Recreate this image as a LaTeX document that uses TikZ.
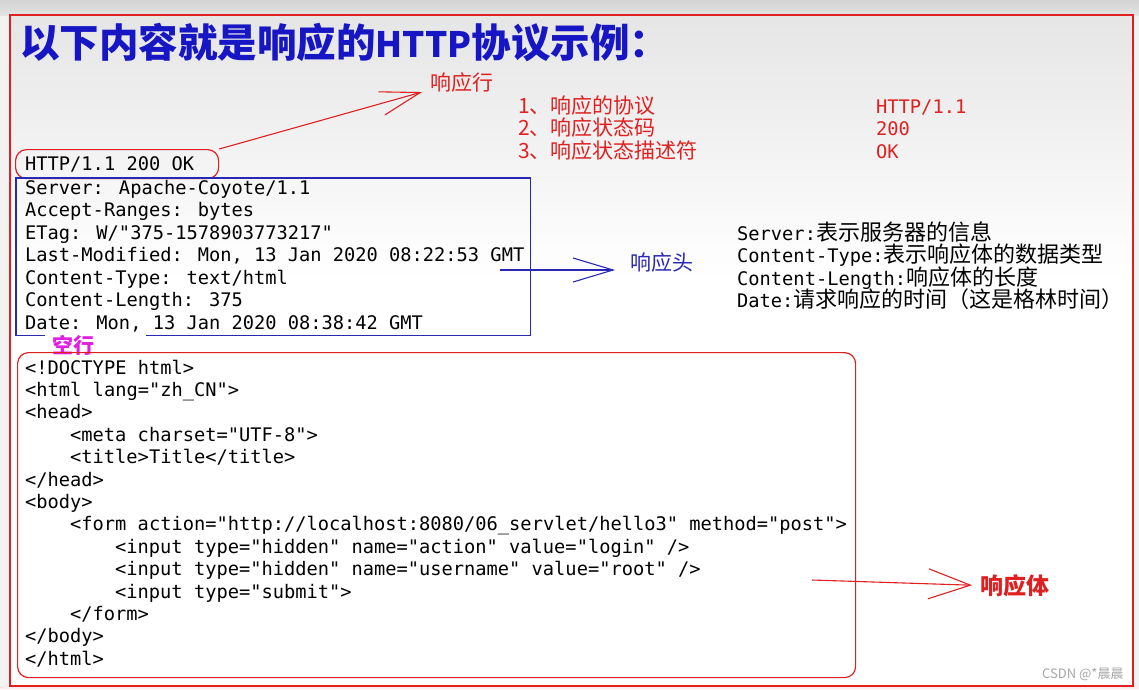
\documentclass[tikz,border=0pt]{standalone}
\usepackage{fontspec}
\newfontfamily\codefont{DejaVu Sans Mono}
\newfontfamily\cjkfont{Noto Sans CJK SC}
\usepackage{xcolor}
\usepackage{tikz}
\usetikzlibrary{arrows.meta, positioning}

\definecolor{slidered}{HTML}{E02020}
\definecolor{slideblue}{HTML}{1616C4}
\definecolor{hdrblue}{HTML}{2828B4}
\definecolor{notemagenta}{HTML}{E020E0}

\newcommand{\ind}{\hspace*{45pt}}

\begin{document}
\begin{tikzpicture}[
  x=1pt, y=-1pt,
  code/.style = {anchor=base west, inner sep=0pt, text=black,
    font=\codefont\fontsize{18.7}{22.5}\selectfont},
  note/.style = {anchor=base west, inner sep=0pt,
    font=\cjkfont\fontsize{21}{24}\selectfont},
  redround/.style = {draw=slidered, line width=1.2pt, rounded corners=11pt,
    anchor=north west, inner sep=0pt},
  plainbox/.style = {anchor=north west, inner sep=0pt},
  hint/.style = {line width=1.1pt,
    -{Straight Barb[length=40pt, width=24pt, line width=1.1pt]}}
]
\useasboundingbox (0,0) rectangle (1139,689);

% slide background
\fill[gray!10] (0,0) rectangle (1139,689);
\shade[top color=gray!35, bottom color=gray!22] (0,0) rectangle (1139,15);
\shade[top color=gray!20, bottom color=white] (10,15) rectangle (1133,280);
\fill[white] (10,280) rectangle (1133,686);
\fill[red!8] (0,686) rectangle (1139,689);
\draw[slidered, line width=1.2pt] (10,15) rectangle (1133,686);

\node[anchor=base west, inner sep=0pt, text=slideblue,
      font=\cjkfont\bfseries\fontsize{39.5}{42}\selectfont] (title) at (20,57)
  {以下内容就是响应的{\fontsize{35}{38}\selectfont HTTP}协议示例：};

% response line
\node[code] (status) at (25,170) {HTTP/1.1 200 OK};
\node[redround, minimum width=203pt, minimum height=29pt] (statusbox) at (15,149) {};
\node[note, text=slidered] (linelbl) at (430,90) {响应行};

\foreach \item/\val [count=\i] in {{1、响应的协议}/{HTTP/1.1}, {2、响应状态码}/{200}, {3、响应状态描述符}/{OK}} {
  \node[note, text=slidered] (part\i) at (518, {90.5+22.5*\i}) {\item};
  \node[code, text=slidered] (partval\i) at (876, {90.5+22.5*\i}) {\val};
}

% response headers
\foreach \txt [count=\i] in {{Server: Apache-Coyote/1.1}, {Accept-Ranges: bytes},
    {ETag: W/"375-1578903773217"}, {Last-Modified: Mon, 13 Jan 2020 08:22:53 GMT},
    {Content-Type: text/html}, {Content-Length: 375}, {Date: Mon, 13 Jan 2020 08:38:42 GMT}}
  \node[code] (hdr\i) at (25, {171.5+22.5*\i}) {\txt};
\node[plainbox, minimum width=514pt, minimum height=157pt] (hdrbox) at (16,178) {};
\draw[hdrblue, line width=1.1pt] ([xshift=29pt]hdrbox.south west) -- (hdrbox.south west)
  -- (hdrbox.north west) -- (hdrbox.north east) -- (hdrbox.south east)
  -- ([xshift=130pt]hdrbox.south west);
\node[note, text=hdrblue] (hdrlbl) at (630,270) {响应头};

\foreach \key/\val [count=\i] in {{Server:}/{表示服务器的信息}, {Content-Type:}/{表示响应体的数据类型},
    {Content-Length:}/{响应体的长度}, {Date:}/{请求响应的时间（这是格林时间）}}
  \node[code] (meaning\i) at (737, {217.5+22.5*\i})
    {\key{\cjkfont\fontsize{22}{22.5}\selectfont\val}};

% blank line + body
\node[note, text=notemagenta, font=\cjkfont\bfseries\fontsize{21}{24}\selectfont] (blanklbl) at (52,353) {空行};
\foreach \txt [count=\i] in {{<!DOCTYPE html>}, {<html lang="zh\_CN">}, {<head>},
    {\ind<meta charset="UTF-8">}, {\ind<title>Title</title>}, {</head>}, {<body>},
    {\ind<form action="http://localhost:8080/06\_servlet/hello3" method="post">},
    {\ind\ind<input type="hidden" name="action" value="login" />},
    {\ind\ind<input type="hidden" name="username" value="root" />},
    {\ind\ind<input type="submit">}, {\ind</form>}, {</body>}, {</html>}}
  \node[code] (body\i) at (25, {351.6+22.4*\i}) {\txt};
\node[redround, minimum width=838pt, minimum height=325pt] (bodybox) at (17,352) {};
\node[note, text=slidered, font=\cjkfont\bfseries\fontsize{23}{26}\selectfont] (bodylbl) at (980,594) {响应体};

\node[anchor=base west, inner sep=0pt, text=gray!70,
      font=\cjkfont\fontsize{13}{15}\selectfont] (mark) at (1042,678) {CSDN @*晨晨};

% pointers
\coordinate (hdrtail) at (500,270);
\coordinate (bodytail) at (812,580);
\draw[hint, slidered] (statusbox.north east) -- ([xshift=-8pt]linelbl.south west);
\draw[hint, hdrblue] (hdrtail) -- ([xshift=-15pt]hdrlbl.base west);
\draw[hint, slidered, -{Straight Barb[length=42pt, width=30pt, line width=1.1pt]}]
  (bodytail) -- ([xshift=-8pt]bodylbl.west);
\end{tikzpicture}
\end{document}
